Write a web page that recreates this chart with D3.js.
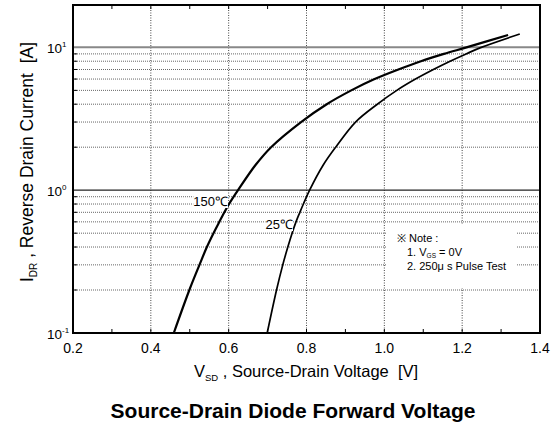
<!DOCTYPE html>
<html><head><meta charset="utf-8">
<script src="https://cdn.jsdelivr.net/npm/d3@7"></script>
<style>body{margin:0;background:#fff}svg{display:block;font-family:"Liberation Sans",Arial,sans-serif}text{white-space:pre}</style>
</head><body><svg id="c" width="553" height="427"></svg>
<script>
const xTicks = [0.2, 0.4, 0.6, 0.8, 1.0, 1.2, 1.4];
const yMajor = [0.1, 1, 10];
const yMajorExp = ["-1", "0", "1"];
const yMinor = [0.2,0.3,0.4,0.5,0.6,0.7,0.8,0.9,2,3,4,5,6,7,8,9];
const current = [0.1,0.2,0.3,0.4,0.5,0.6,0.7,0.8,1.0,1.5,2,3,4,5,6,7,8,9,10];
const v150 = [0.459,0.499,0.525,0.544,0.561,0.576,0.589,0.601,0.624,0.669,0.709,0.786,0.852,0.915,0.975,1.036,1.094,1.153,1.211];
const v150End = [1.318, 12.2];
const v25 = [0.699,0.723,0.739,0.752,0.763,0.773,0.783,0.792,0.808,0.843,0.875,0.926,0.982,1.032,1.080,1.126,1.169,1.210,1.249];
const v25End = [1.348, 12.4];
const noteLines = ["※ Note :", "1. V", "2. 250μ s Pulse Test"];

const svg = d3.select("#c");
const L = 73, T = 5, W = 467, H = 328;
const x = d3.scaleLinear().domain([0.2, 1.4]).range([L, L + W]);
const y = d3.scaleLog().domain([0.1, 19.8]).range([T + H, T]);

// minor horizontal grid
svg.append("g").selectAll("line").data(yMinor).join("line")
  .attr("x1", L).attr("x2", L + W).attr("y1", d => y(d)).attr("y2", d => y(d))
  .attr("stroke", "#666").attr("stroke-width", 1).attr("stroke-dasharray", "1,1");
// vertical grid
svg.append("g").selectAll("line").data(xTicks.slice(1, -1)).join("line")
  .attr("x1", d => x(d)).attr("x2", d => x(d)).attr("y1", T).attr("y2", T + H)
  .attr("stroke", "#444").attr("stroke-width", 1).attr("stroke-dasharray", "1,1.5");
// major horizontal
svg.append("line").attr("x1", L).attr("x2", L + W).attr("y1", y(10)).attr("y2", y(10))
  .attr("stroke", "#888").attr("stroke-width", 2);
svg.append("line").attr("x1", L).attr("x2", L + W).attr("y1", y(1)).attr("y2", y(1))
  .attr("stroke", "#222").attr("stroke-width", 1.2);

// note box
const nb = svg.append("g");
nb.append("rect").attr("x", 387).attr("y", 225).attr("width", 129).attr("height", 63).attr("fill", "#fff");
nb.append("text").attr("x", 397).attr("y", 242).attr("font-size", 11).text(noteLines[0]);
const t1 = nb.append("text").attr("x", 407).attr("y", 256).attr("font-size", 11);
t1.append("tspan").text(noteLines[1]);
t1.append("tspan").attr("font-size", 6.5).attr("dy", 2).text("GS");
t1.append("tspan").attr("dy", -2).text(" = 0V");
nb.append("text").attr("x", 407).attr("y", 270).attr("font-size", 11).text(noteLines[2]);

// curves
const line = d3.line().x(d => x(d[0])).y(d => y(d[1])).curve(d3.curveCatmullRom.alpha(0.5));
const d150 = v150.map((v, i) => [v, current[i]]).concat([v150End]);
const d25 = v25.map((v, i) => [v, current[i]]).concat([v25End]);
svg.append("path").attr("d", line(d150)).attr("fill", "none").attr("stroke", "#000").attr("stroke-width", 2.2);
svg.append("path").attr("d", line(d25)).attr("fill", "none").attr("stroke", "#000").attr("stroke-width", 1.7);

// curve labels
function label(tx, ty, txt) {
  const g = svg.append("g");
  const t = g.append("text").attr("x", tx).attr("y", ty).attr("font-size", 13).attr("text-anchor", "end").text(txt);
  const b = t.node().getBBox();
  g.insert("rect", "text").attr("x", b.x).attr("y", b.y + 1).attr("width", b.width).attr("height", b.height - 2).attr("fill", "#fff");
}
label(228, 206, "150℃");
label(293, 229, "25℃");

// frame
svg.append("rect").attr("x", L).attr("y", T).attr("width", W).attr("height", H)
  .attr("fill", "none").attr("stroke", "#000").attr("stroke-width", 2);

// minor ticks x (top & bottom)
const xMinor = d3.range(2, 15).map(d => d / 10);
svg.append("g").selectAll("line").data(xMinor).join("line")
  .attr("x1", d => x(d)).attr("x2", d => x(d)).attr("y1", T + H).attr("y2", T + H - 4).attr("stroke", "#000");
svg.append("g").selectAll("line").data(xMinor).join("line")
  .attr("x1", d => x(d)).attr("x2", d => x(d)).attr("y1", T).attr("y2", T + 4).attr("stroke", "#000");
svg.append("g").selectAll("line").data(yMinor).join("line")
  .attr("x1", L).attr("x2", L + 4).attr("y1", d => y(d)).attr("y2", d => y(d)).attr("stroke", "#000");

// x tick labels
svg.append("g").selectAll("text").data(xTicks).join("text")
  .attr("x", d => x(d)).attr("y", 353).attr("text-anchor", "middle").attr("font-size", 14)
  .text(d => d.toFixed(1));
// y tick labels
const yl = svg.append("g").selectAll("text").data(yMajor).join("text")
  .attr("x", 47).attr("y", d => y(d) + 5.5).attr("font-size", 13.5);
yl.append("tspan").text("10");
yl.append("tspan").attr("font-size", 8).attr("dy", -6).text((d, i) => yMajorExp[i]);

// x axis title
const xt = svg.append("text").attr("x", 306).attr("y", 377).attr("text-anchor", "middle").attr("font-size", 16.5);
xt.append("tspan").text("V");
xt.append("tspan").attr("font-size", 9.5).attr("dy", 4).text("SD");
xt.append("tspan").attr("dy", -4).text(" , Source-Drain Voltage  [V]");

// y axis title
const yt = svg.append("text").attr("transform", "translate(33,162) rotate(-90)").attr("text-anchor", "middle").attr("font-size", 17.5);
yt.append("tspan").text("I");
yt.append("tspan").attr("font-size", 10).attr("dy", 4).text("DR");
yt.append("tspan").attr("dy", -4).text(" , Reverse Drain Current  [A]");

// chart title
svg.append("text").attr("x", 293).attr("y", 418).attr("text-anchor", "middle").attr("font-size", 21)
  .attr("font-weight", "bold").text("Source-Drain Diode Forward Voltage");
</script></body></html>
